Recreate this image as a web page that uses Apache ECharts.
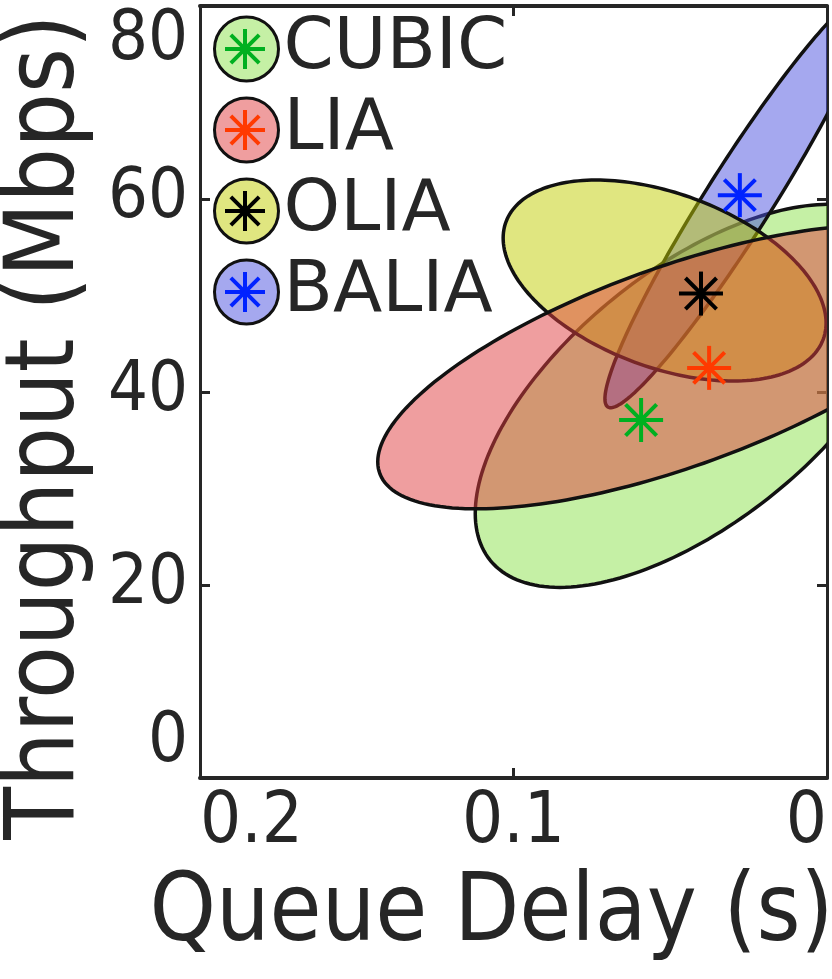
<!DOCTYPE html>
<html>
<head>
<meta charset="utf-8">
<script src="https://cdn.jsdelivr.net/npm/echarts@6/dist/echarts.min.js"></script>
<style>
  html, body { margin: 0; padding: 0; background: #fff; }
  #chart { width: 832px; height: 979px; }
</style>
</head>
<body>
<div id="chart"></div>
<script>
// 图例顺序
const names = ["CUBIC", "LIA", "OLIA", "BALIA"];
// 均值点: 排队时延 (s), 吞吐量 (Mbps)
const meanDelay = [0.0593, 0.0376, 0.0402, 0.0278];
const meanThroughput = [37.1, 42.5, 50.2, 60.4];
// 椭圆: 中心 + 两个共轭半轴 [delay, throughput]
const ellipseCenter = [[0.0424, 39.6], [0.0481, 42.6], [0.0518, 51.55], [0.0281, 59.9]];
const ellipseAxisU = [[-0.0698, 12.18], [-0.0952, 9.84], [-0.0515, -4.40], [-0.0418, 21.45]];
const ellipseAxisV = [[0, 15.67], [0, 10.93], [0, 9.44], [-0.0089, -1.83]];
// 坐标轴刻度
const xTicks = [0, 0.1, 0.2];
const yTicks = [0, 20, 40, 60, 80];

// 样式
const fillColors = ["rgba(139,225,75,0.5)", "rgba(223,61,63,0.5)", "rgba(193,205,1,0.5)", "rgba(75,81,223,0.5)"];
const starColors = ["#00b020", "#ff3a00", "#000000", "#0022ff"];
const drawOrder = [0, 3, 2, 1]; // 绘制顺序: 下 -> 上
const axisColor = "#262626";
const axisFont = "'DejaVu Sans Condensed', 'DejaVu Sans', sans-serif";
// 图例布局 (文字行高 72, 行距 81)
const legendLeft = 213, legendTop = 13, iconSize = 64, legendText = 72, legendGap = 9;

const chart = echarts.init(document.getElementById("chart"), null, { renderer: "canvas" });

function ellipseRenderer(i) {
  return function (params, api) {
    const pts = [];
    const n = 200;
    for (let k = 0; k < n; k++) {
      const t = (2 * Math.PI * k) / n;
      const c = Math.cos(t), s = Math.sin(t);
      pts.push(api.coord([
        ellipseCenter[i][0] + ellipseAxisU[i][0] * c + ellipseAxisV[i][0] * s,
        ellipseCenter[i][1] + ellipseAxisU[i][1] * c + ellipseAxisV[i][1] * s
      ]));
    }
    const cs = params.coordSys;
    return {
      type: "polygon",
      shape: { points: pts },
      style: { fill: fillColors[i], stroke: "#111", lineWidth: 3.5 },
      clipPath: { type: "rect", shape: { x: cs.x, y: cs.y, width: cs.width, height: cs.height } }
    };
  };
}

function starLines(cx, cy, r, color) {
  const out = [];
  for (let a = 0; a < 4; a++) {
    const ang = (a * Math.PI) / 4;
    const dx = r * Math.cos(ang), dy = r * Math.sin(ang);
    out.push({
      type: "line",
      shape: { x1: cx - dx, y1: cy - dy, x2: cx + dx, y2: cy + dy },
      style: { stroke: color, lineWidth: 4 }
    });
  }
  return out;
}

function starRenderer(i) {
  return function (params, api) {
    const p = api.coord([api.value(0), api.value(1)]);
    return { type: "group", children: starLines(p[0], p[1], 22, starColors[i]) };
  };
}

const series = [];
drawOrder.forEach(function (i) {
  series.push({
    name: names[i],
    type: "custom",
    coordinateSystem: "cartesian2d",
    renderItem: ellipseRenderer(i),
    data: [ellipseCenter[i]],
    z: 2
  });
});
names.forEach(function (n, i) {
  series.push({
    name: n,
    type: "custom",
    coordinateSystem: "cartesian2d",
    renderItem: starRenderer(i),
    data: [[meanDelay[i], meanThroughput[i]]],
    z: 5
  });
});

// 图例中的星号
const legendStars = [];
names.forEach(function (n, i) {
  const cx = legendLeft + iconSize / 2;
  const cy = legendTop + legendText / 2 + i * (legendText + legendGap);
  starLines(cx, cy, 20, starColors[i]).forEach(function (l) {
    l.z = 100;
    legendStars.push(l);
  });
});

function axisBase(width) {
  return {
    type: "value",
    splitLine: { show: false },
    axisLine: { show: true, onZero: false, lineStyle: { color: axisColor, width: width } },
    axisTick: { show: true, inside: true, length: 10, lineStyle: { color: axisColor, width: 3 } }
  };
}

chart.setOption({
  animation: false,
  backgroundColor: "#fff",
  grid: { left: 200, right: 5, top: 6, bottom: 201, outerBoundsMode: "none" },
  legend: {
    orient: "vertical",
    left: legendLeft,
    top: legendTop,
    padding: 0,
    itemWidth: iconSize,
    itemHeight: iconSize,
    itemGap: legendGap,
    selectedMode: false,
    data: names.map(function (n, i) {
      return {
        name: n,
        icon: "circle",
        itemStyle: { color: fillColors[i], borderColor: "#111", borderWidth: 3 }
      };
    }),
    textStyle: { fontSize: 72, fontFamily: "'DejaVu Sans', sans-serif", color: axisColor, lineHeight: legendText }
  },
  xAxis: [
    Object.assign(axisBase(4), {
      position: "bottom",
      inverse: true,
      min: xTicks[0],
      max: xTicks[xTicks.length - 1],
      interval: xTicks[1] - xTicks[0],
      name: "Queue Delay (s)",
      nameLocation: "middle",
      nameGap: 91,
      nameTextStyle: { fontSize: 94, fontFamily: axisFont, color: axisColor, padding: [0, 44, 0, 0] },
      axisLabel: {
        fontSize: 72, fontFamily: axisFont, color: axisColor, margin: 9,
        alignMinLabel: "right", alignMaxLabel: "left"
      }
    }),
    Object.assign(axisBase(4), {
      position: "top",
      inverse: true,
      min: xTicks[0],
      max: xTicks[xTicks.length - 1],
      interval: xTicks[1] - xTicks[0],
      axisLabel: { show: false }
    })
  ],
  yAxis: [
    Object.assign(axisBase(3), {
      position: "left",
      min: yTicks[0],
      max: yTicks[yTicks.length - 1],
      interval: yTicks[1] - yTicks[0],
      name: "Throughput (Mbps)",
      nameLocation: "middle",
      nameRotate: 90,
      nameGap: 104,
      nameTextStyle: { fontSize: 96, fontFamily: axisFont, color: axisColor, padding: [0, 70, 0, 0] },
      axisLabel: {
        fontSize: 70, fontFamily: axisFont, color: axisColor, margin: 12,
        verticalAlignMinLabel: "bottom", verticalAlignMaxLabel: "top"
      }
    }),
    Object.assign(axisBase(3), {
      position: "right",
      min: yTicks[0],
      max: yTicks[yTicks.length - 1],
      interval: yTicks[1] - yTicks[0],
      axisLabel: { show: false }
    })
  ],
  graphic: legendStars,
  series: series
});
</script>
</body>
</html>
